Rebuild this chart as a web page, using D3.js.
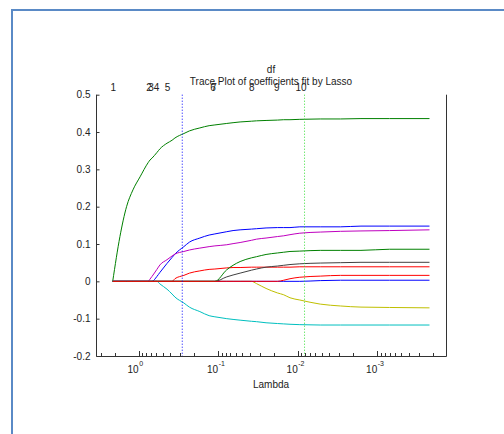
<!DOCTYPE html>
<html>
<head>
<meta charset="utf-8">
<script src="https://cdn.jsdelivr.net/npm/d3@7"></script>
<style>
  body { margin: 0; background: #fff; }
  text { font-family: "Liberation Sans", Arial, sans-serif; fill: #222; }
</style>
</head>
<body>
<svg width="504" height="434"></svg>
<script>
// lambda grid (reversed log axis) and coefficient paths
var lambda = [2.12, 1.72, 1.42, 1.18, 0.96, 0.76, 0.72, 0.68, 0.59, 0.54, 0.44,
  0.38, 0.35, 0.27, 0.23, 0.17, 0.13, 0.11, 0.078, 0.065, 0.053, 0.038, 0.033,
  0.025, 0.018, 0.015, 0.0125, 0.0094, 0.0052, 0.0029, 0.0016, 0.0007, 0.00022];

var coef1 = [0, 0, 0, 0, 0, 0, 0, 0, 0.013, 0.024, 0.048, 0.064, 0.073, 0.093, 0.105,
  0.116, 0.124, 0.127, 0.133, 0.136, 0.138, 0.140, 0.141, 0.143, 0.144, 0.144, 0.144,
  0.146, 0.146, 0.146, 0.148, 0.148, 0.148];
var coef2 = [0, 0.12, 0.20, 0.245, 0.28, 0.318, 0.325, 0.33, 0.345, 0.355, 0.37,
  0.378, 0.384, 0.396, 0.403, 0.411, 0.417, 0.419, 0.423, 0.425, 0.427, 0.429, 0.430,
  0.431, 0.432, 0.433, 0.433, 0.434, 0.435, 0.435, 0.436, 0.436, 0.436];
var coef3 = [0, 0, 0, 0, 0, 0, 0, 0, 0, 0, 0, 0, 0.007, 0.016, 0.022, 0.028, 0.032,
  0.033, 0.036, 0.037, 0.037, 0.038, 0.038, 0.038, 0.038, 0.038, 0.038, 0.039, 0.039,
  0.039, 0.039, 0.039, 0.039];
var coef4 = [0, 0, 0, 0, 0, 0, 0, 0, 0, -0.007, -0.021, -0.034, -0.042, -0.058, -0.069,
  -0.081, -0.092, -0.095, -0.100, -0.102, -0.104, -0.107, -0.108, -0.111, -0.113,
  -0.114, -0.115, -0.116, -0.117, -0.117, -0.117, -0.117, -0.117];
var coef5 = [0, 0, 0, 0, 0, 0, 0.006, 0.013, 0.032, 0.044, 0.058, 0.068, 0.073, 0.080,
  0.084, 0.089, 0.093, 0.095, 0.098, 0.101, 0.104, 0.110, 0.113, 0.116, 0.120, 0.122,
  0.125, 0.129, 0.132, 0.134, 0.135, 0.136, 0.138];
var coef6 = [0, 0, 0, 0, 0, 0, 0, 0, 0, 0, 0, 0, 0, 0, 0, 0, 0, 0, 0, 0, 0, 0, -0.006,
  -0.019, -0.031, -0.036, -0.044, -0.050, -0.061, -0.066, -0.069, -0.070, -0.071];
var coef7 = [0, 0, 0, 0, 0, 0, 0, 0, 0, 0, 0, 0, 0, 0, 0, 0, 0, 0, 0.012, 0.017, 0.022,
  0.030, 0.033, 0.038, 0.041, 0.043, 0.045, 0.047, 0.049, 0.050, 0.051, 0.051, 0.051];
var coef8 = [0, 0, 0, 0, 0, 0, 0, 0, 0, 0, 0, 0, 0, 0, 0, 0, 0, 0, 0, 0, 0, 0, 0,
  0, 0, 0, 0, 0, 0.002, 0.003, 0.003, 0.003, 0.003];
var coef9 = [0, 0, 0, 0, 0, 0, 0, 0, 0, 0, 0, 0, 0, 0, 0, 0, 0, 0, 0.031, 0.043, 0.053,
  0.063, 0.066, 0.072, 0.076, 0.078, 0.080, 0.081, 0.083, 0.083, 0.083, 0.086, 0.086];
var coef10 = [0, 0, 0, 0, 0, 0, 0, 0, 0, 0, 0, 0, 0, 0, 0, 0, 0, 0, 0, 0, 0, 0, 0,
  0, 0, 0.003, 0.007, 0.011, 0.014, 0.016, 0.016, 0.016, 0.016];

var coefs = [coef1, coef2, coef3, coef4, coef5, coef6, coef7, coef8, coef9, coef10];
var colors = ["#0000ff", "#008000", "#ff0000", "#00bfbf", "#bf00bf", "#bfbf00",
  "#404040", "#0000ff", "#008000", "#ff0000"];

// degrees of freedom along the top
var dfLambda = [2.09, 0.742, 0.70, 0.594, 0.432, 0.116, 0.113, 0.0379, 0.0183, 0.0091];
var dfLabels = ["1", "2", "3", "4", "5", "6", "7", "8", "9", "10"];

var yTicks = [-0.2, -0.1, 0, 0.1, 0.2, 0.3, 0.4, 0.5];
var xMajor = [1, 0.1, 0.01, 0.001];
var xExp = ["0", "-1", "-2", "-3"];

var seLine = 0.283;   // blue dotted
var minLine = 0.0082; // green dotted

var svg = d3.select("svg");

// window frame
svg.append("path")
      .attr("d", "M12,434V10H504")
      .attr("fill", "none")
      .attr("stroke", "#5a8ac6")
      .attr("stroke-width", 2);

var xScale = d3.scaleLog()
      .domain([3.44, 1.364e-4])
      .range([96, 446]);
var yScale = d3.scaleLinear()
      .domain([-0.2, 0.5])
      .range([356, 94.7]);

var line = d3.line()
      .x((d, i) => xScale(lambda[i]))
      .y(d => yScale(d))
      .curve(d3.curveMonotoneX);

svg.append("g")
      .selectAll("path")
      .data(coefs)
      .enter()
      .append("path")
      .attr("d", d => line(d))
      .attr("fill", "none")
      .attr("stroke", (d, i) => colors[i])
      .attr("stroke-width", 1);

// dotted reference lines
svg.append("line")
      .attr("x1", xScale(seLine)).attr("x2", xScale(seLine))
      .attr("y1", 94.7).attr("y2", 356)
      .attr("stroke", "#0000ff")
      .attr("stroke-dasharray", "1,2");
svg.append("line")
      .attr("x1", xScale(minLine)).attr("x2", xScale(minLine))
      .attr("y1", 94.7).attr("y2", 356)
      .attr("stroke", "#33dd33")
      .attr("stroke-dasharray", "1,2");

// axes box: left, bottom, right
var axisG = svg.append("g")
      .attr("stroke", "#333")
      .attr("fill", "none");
axisG.append("path")
      .attr("d", "M96.5,94.7V356.5H446.5V94.7");

var yAxis = d3.axisLeft(yScale)
      .tickValues(yTicks)
      .tickSizeInner(-3)
      .tickSizeOuter(0)
      .tickPadding(6)
      .tickFormat(d => String(d));

svg.append("g")
      .attr("transform", "translate(96.5,0)")
      .call(yAxis)
      .call(g => g.select(".domain").remove())
      .call(g => g.selectAll("line").attr("stroke", "#333"))
      .call(g => g.selectAll("text").attr("font-size", 10).attr("fill", "#222")
        .attr("font-family", "Liberation Sans, Arial, sans-serif"));

// minor log ticks
var minor = [];
[1, 0.1, 0.01, 0.001, 0.0001].forEach(function (dec) {
  for (var k = 2; k <= 9; k++) {
    var v = dec * k;
    if (v <= 3.44 && v >= 1.364e-4) minor.push(v);
  }
});

svg.append("g")
      .selectAll("line")
      .data(minor)
      .enter()
      .append("line")
      .attr("x1", d => Math.round(xScale(d)) + 0.5)
      .attr("x2", d => Math.round(xScale(d)) + 0.5)
      .attr("y1", 356)
      .attr("y2", 353)
      .attr("stroke", "#333");

svg.append("g")
      .selectAll("line")
      .data(xMajor)
      .enter()
      .append("line")
      .attr("x1", d => Math.round(xScale(d)) + 0.5)
      .attr("x2", d => Math.round(xScale(d)) + 0.5)
      .attr("y1", 356)
      .attr("y2", 351)
      .attr("stroke", "#333");

var xl = svg.append("g")
      .selectAll("g")
      .data(xMajor)
      .enter()
      .append("g")
      .attr("transform", d => "translate(" + xScale(d) + ",0)");
xl.append("text")
      .attr("x", 0)
      .attr("y", 373)
      .attr("text-anchor", "end")
      .attr("font-size", 10)
      .text("10");
xl.append("text")
      .attr("x", 0.5)
      .attr("y", 366)
      .attr("text-anchor", "start")
      .attr("font-size", 7)
      .text((d, i) => xExp[i]);

svg.append("text")
      .attr("x", 271)
      .attr("y", 388)
      .attr("text-anchor", "middle")
      .attr("font-size", 10)
      .text("Lambda");

// df labels on top
svg.append("g")
      .selectAll("text")
      .data(dfLabels)
      .enter()
      .append("text")
      .attr("x", (d, i) => xScale(dfLambda[i]))
      .attr("y", 91)
      .attr("text-anchor", "middle")
      .attr("font-size", 10)
      .text(d => d);

svg.append("text")
      .attr("x", 271)
      .attr("y", 73)
      .attr("text-anchor", "middle")
      .attr("font-size", 10)
      .text("df");

svg.append("text")
      .attr("x", 271)
      .attr("y", 85)
      .attr("text-anchor", "middle")
      .attr("font-size", 10)
      .text("Trace Plot of coefficients fit by Lasso");
</script>
</body>
</html>
